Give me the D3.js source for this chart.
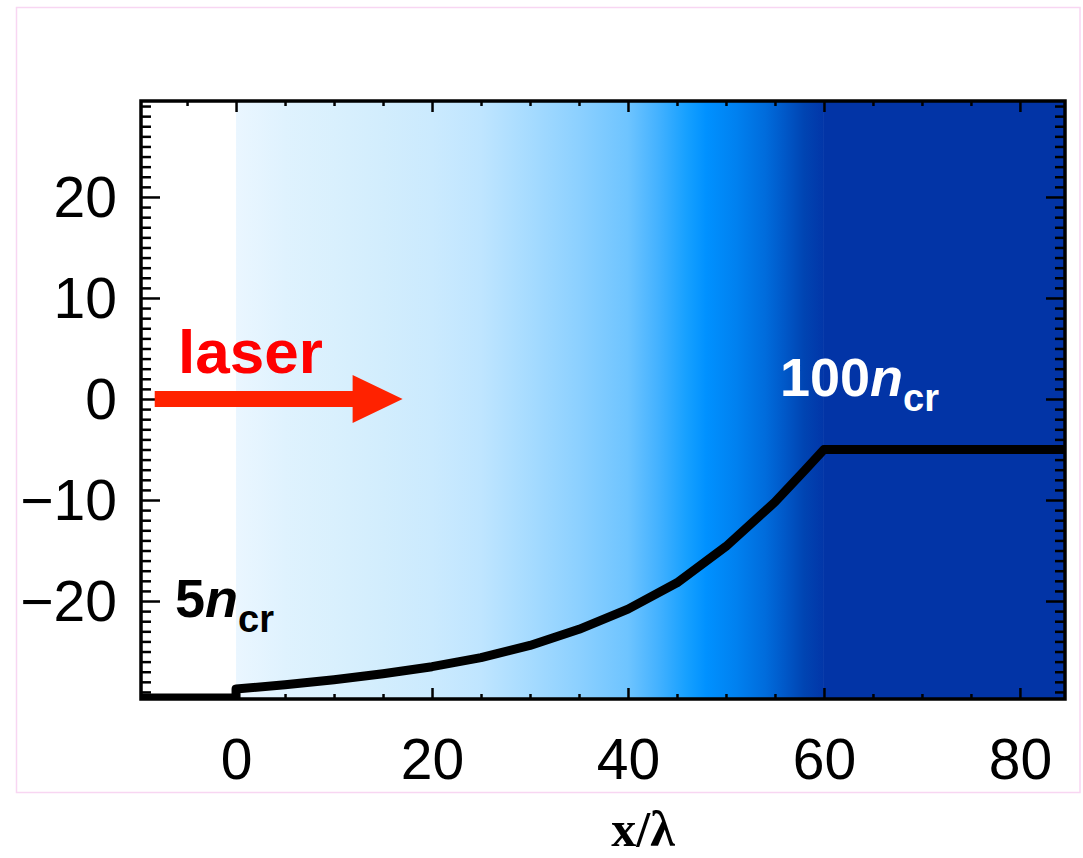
<!DOCTYPE html>
<html>
<head>
<meta charset="utf-8">
<script src="https://cdn.jsdelivr.net/npm/d3@7"></script>
<style>
  html, body { margin: 0; padding: 0; background: #fff; }
  svg { display: block; }
</style>
</head>
<body>
<svg id="chart" width="1083" height="858"></svg>
<script>
// ---- data ----
const profileX = [-10, 0, 0, 5, 10, 15, 20, 25, 30, 35, 40, 45, 50, 55, 58, 60, 85];
const profileY = [-29.6, -29.6, -28.7, -28.3, -27.8, -27.2, -26.5, -25.6, -24.4, -22.8, -20.8, -18.2, -14.6, -10.2, -7.1, -5, -5];
const gradStopX = [0, 5, 10, 15, 20, 25, 30, 35, 40, 43, 46, 48, 51, 54, 56, 58, 60];
const gradStopColor = ["#eaf6ff", "#dff2fe", "#d9f0fd", "#d2edfd", "#cbeafe", "#bfe5ff", "#a6dbff", "#8cd0ff", "#6ec4ff", "#45b2ff", "#16a0ff", "#0091ff", "#0081f0", "#006cdc", "#0058c8", "#0044b2", "#0236a8"];
const plateauColor = "#0234a6";
const xMajorTicks = [0, 20, 40, 60, 80];
const xMinorTicks = [-5, 5, 10, 15, 25, 30, 35, 45, 50, 55, 65, 70, 75];
const yMajorTicks = [-20, -10, 0, 10, 20];
const yMinorTicks = [-29,-28,-27,-26,-25,-24,-23,-22,-21,-19,-18,-17,-16,-15,-14,-13,-12,-11,-9,-8,-7,-6,-5,-4,-3,-2,-1,1,2,3,4,5,6,7,8,9,11,12,13,14,15,16,17,18,19,21,22,23,24,25,26,27,28,29];
const arrowX = [-8.3, 17.0];
const xLabel = "x/λ";

// ---- layout ----
const L = 141, R = 1065, T = 101, B = 699;
const x = d3.scaleLinear().domain([-9.7, 84.6]).range([L, R]);
const y = d3.scaleLinear().domain([-29.7, 29.5]).range([B, T]);

const svg = d3.select("#chart");

// outer pink frame
svg.append("rect").attr("x", 16.5).attr("y", 7.5).attr("width", 1063.5).attr("height", 785)
  .attr("fill", "none").attr("stroke", "#f8d6f2").attr("stroke-width", 1.5);

const defs = svg.append("defs");
defs.append("clipPath").attr("id", "plotclip").append("rect")
  .attr("x", L).attr("y", T).attr("width", R - L).attr("height", B - T);

const grad = defs.append("linearGradient").attr("id", "dens")
  .attr("gradientUnits", "userSpaceOnUse")
  .attr("x1", x(gradStopX[0])).attr("x2", x(gradStopX[gradStopX.length - 1]))
  .attr("y1", 0).attr("y2", 0);
const x0 = gradStopX[0], x1 = gradStopX[gradStopX.length - 1];
grad.selectAll("stop").data(gradStopX).join("stop")
  .attr("offset", d => (x(d) - x(x0)) / (x(x1) - x(x0)))
  .attr("stop-color", (d, i) => gradStopColor[i]);

const plot = svg.append("g").attr("clip-path", "url(#plotclip)");
plot.append("rect").attr("x", L).attr("y", T).attr("width", R - L).attr("height", B - T).attr("fill", "#fff");
plot.append("rect").attr("x", x(x0)).attr("y", T).attr("width", x(x1) - x(x0)).attr("height", B - T).attr("fill", "url(#dens)");
plot.append("rect").attr("x", x(x1)).attr("y", T).attr("width", R - x(x1)).attr("height", B - T).attr("fill", plateauColor);

// profile curve
const pts = profileX.map((d, i) => [d, profileY[i]]);
plot.append("path").datum(pts)
  .attr("d", d3.line().x(d => x(d[0])).y(d => y(d[1])))
  .attr("fill", "none").attr("stroke", "#000").attr("stroke-width", 9)
  .attr("stroke-linejoin", "round");

// ticks (all four sides, inward)
function tickAxis(gen, tr, vals, size) {
  const g = svg.append("g").attr("transform", tr)
    .call(gen.tickValues(vals).tickSize(size).tickFormat(""));
  g.select(".domain").remove();
  g.selectAll(".tick line").attr("stroke", "#000").attr("stroke-width", 2.5);
  return g;
}
tickAxis(d3.axisBottom(x), `translate(0,${B})`, xMajorTicks, -11);
tickAxis(d3.axisBottom(x), `translate(0,${B})`, xMinorTicks, -5);
tickAxis(d3.axisTop(x), `translate(0,${T})`, xMajorTicks, -11);
tickAxis(d3.axisTop(x), `translate(0,${T})`, xMinorTicks, -5);
tickAxis(d3.axisLeft(y), `translate(${L},0)`, yMajorTicks, -19);
tickAxis(d3.axisLeft(y), `translate(${L},0)`, yMinorTicks, -10);
tickAxis(d3.axisRight(y), `translate(${R},0)`, yMajorTicks, -19);
tickAxis(d3.axisRight(y), `translate(${R},0)`, yMinorTicks, -10);

// frame
svg.append("rect").attr("x", L).attr("y", T).attr("width", R - L).attr("height", B - T)
  .attr("fill", "none").attr("stroke", "#000").attr("stroke-width", 3.5);

// tick labels
const fmt = d => (d < 0 ? "\u2212" + Math.abs(d) : String(d));
const xl = svg.append("g").attr("transform", `translate(0,${B})`)
  .call(d3.axisBottom(x).tickValues(xMajorTicks).tickSize(0).tickPadding(0).tickFormat(fmt));
xl.select(".domain").remove();
xl.selectAll("text").attr("y", 80).attr("dy", 0)
  .attr("font-family", "Liberation Sans, Arial, sans-serif").attr("font-size", 57).attr("fill", "#000");

const yl = svg.append("g").attr("transform", `translate(${L},0)`)
  .call(d3.axisLeft(y).tickValues(yMajorTicks).tickSize(0).tickPadding(24).tickFormat(fmt));
yl.select(".domain").remove();
yl.selectAll("text").attr("dy", "0.34em")
  .attr("font-family", "Liberation Sans, Arial, sans-serif").attr("font-size", 57).attr("fill", "#000");

// laser arrow
const ay = y(0);
const ax0 = x(arrowX[0]), ax1 = x(arrowX[1]);
svg.append("path")
  .attr("d", `M${ax0},${ay - 8} L${ax1 - 50},${ay - 8} L${ax1 - 50},${ay - 24} L${ax1},${ay} L${ax1 - 50},${ay + 24} L${ax1 - 50},${ay + 8} L${ax0},${ay + 8} Z`)
  .attr("fill", "#ff2200");
svg.append("text").attr("x", 178).attr("y", 373)
  .attr("font-family", "Liberation Sans, Arial, sans-serif").attr("font-weight", "bold")
  .attr("font-size", 62).attr("fill", "#ff0000").text("laser");

// density labels
function densLabel(xp, yp, num, color) {
  const t = svg.append("text").attr("x", xp).attr("y", yp)
    .attr("font-family", "Liberation Sans, Arial, sans-serif").attr("font-weight", "bold")
    .attr("fill", color).attr("font-size", 54);
  t.append("tspan").text(num);
  t.append("tspan").attr("font-style", "italic").text("n");
  t.append("tspan").attr("font-size", 38).attr("dy", 15).text("cr");
}
densLabel(780, 396, "100", "#ffffff");
densLabel(175, 617, "5", "#000000");

// x axis title
svg.append("text").attr("x", 643).attr("y", 846).attr("text-anchor", "middle")
  .attr("font-family", "Liberation Serif, Times New Roman, serif").attr("font-weight", "bold")
  .attr("font-size", 50).attr("fill", "#000").text(xLabel);
</script>
</body>
</html>
